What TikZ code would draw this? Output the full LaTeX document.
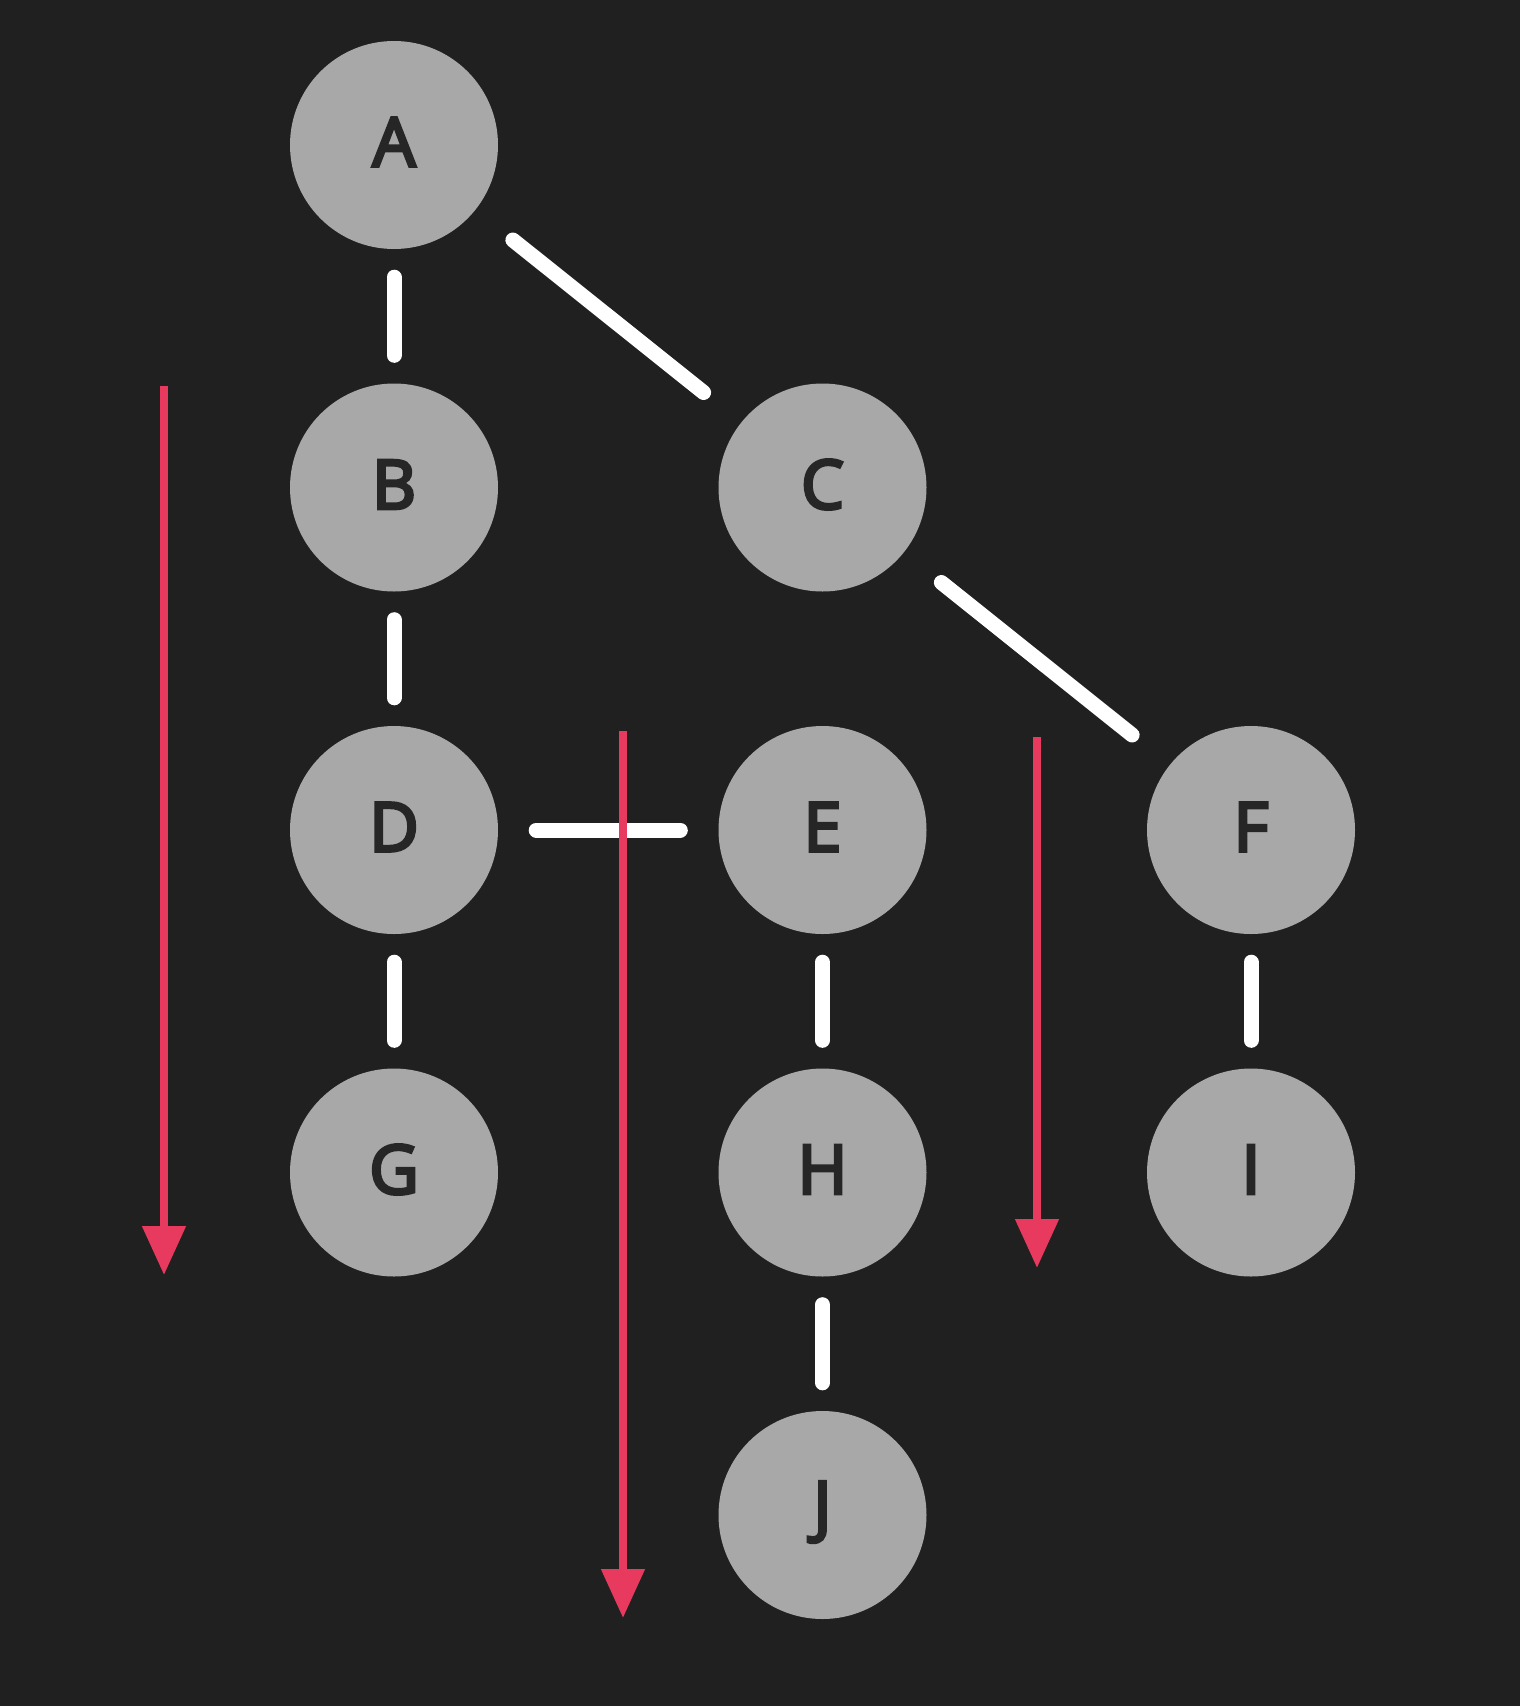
\documentclass[tikz,border=0pt]{standalone}
\usepackage{fontspec}
\newfontfamily\labelfont[FakeBold=4.5]{Open Sans}
\usetikzlibrary{arrows.meta}
\definecolor{bg}{RGB}{32,32,32}
\definecolor{nodegray}{RGB}{168,168,168}
\definecolor{txt}{RGB}{38,38,38}
\definecolor{redarrow}{RGB}{232,58,94}
\begin{document}
\begin{tikzpicture}[x=1pt,y=-1pt,
  vtx/.style={circle,fill=nodegray,minimum size=208pt,inner sep=0pt},
  lbl/.style={text=txt,font=\fontsize{68}{68}\labelfont,inner sep=0pt,yshift=3pt},
  edge/.style={draw=white,line width=15pt,line cap=round},
  vedge/.style={edge,shorten <=28pt,shorten >=28pt},
  hedge/.style={edge,shorten <=38pt,shorten >=38pt},
  dedge/.style={edge,shorten <=48pt,shorten >=48pt},
  redline/.style={draw=redarrow,line width=8pt,-{Triangle[width=42pt,length=49pt]}}
]
\fill[bg] (0,0) rectangle (1520,1706);
\useasboundingbox (0,0) rectangle (1520,1706);
\foreach \n/\x/\y in {A/394/145,B/394/487.5,C/822.5/487.5,D/394/830,E/822.5/830,F/1251/830,G/394/1172.5,H/822.5/1172.5,I/1251/1172.5,J/822.5/1515}{
  \node[vtx] (\n) at (\x,\y) {};
  \node[lbl] (\n-t) at (\n.center) {\n};
}
\draw[vedge] (A) -- (B);
\draw[dedge] (A) -- (C);
\draw[vedge] (B) -- (D);
\draw[dedge] (C) -- (F);
\draw[hedge] (D) -- (E);
\draw[vedge] (D) -- (G);
\draw[vedge] (E) -- (H);
\draw[vedge] (F) -- (I);
\draw[vedge] (H) -- (J);
\coordinate (r1s) at (164,386);
\coordinate (r1e) at (164,1275);
\coordinate (r2s) at (623,731);
\coordinate (r2e) at (623,1618);
\coordinate (r3s) at (1037,737);
\coordinate (r3e) at (1037,1268);
\draw[redline] (r1s) -- (r1e);
\draw[redline] (r2s) -- (r2e);
\draw[redline] (r3s) -- (r3e);
\end{tikzpicture}
\end{document}
